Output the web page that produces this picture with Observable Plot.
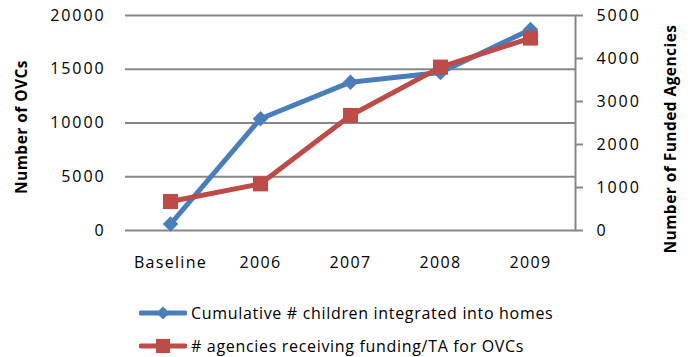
<!DOCTYPE html>
<html>
<head>
<meta charset="utf-8">
<script src="https://cdn.jsdelivr.net/npm/d3@7"></script>
<script src="https://cdn.jsdelivr.net/npm/@observablehq/plot@0.6"></script>
<style>
  html, body { margin: 0; padding: 0; background: #fff; }
  body { width: 696px; height: 357px; overflow: hidden; font-family: "Open Sans", sans-serif; }
  .ovc g[aria-label="y-axis tick label"] text { letter-spacing: 1.9px; }
  .ovc g[aria-label="x-axis tick label"] text { letter-spacing: 1.3px; }
  .ovc g[aria-label="text"] text { letter-spacing: 0.45px; }
  #legend { position: relative; font-size: 16px; letter-spacing: 0.68px; color: #000; }
  .item { position: absolute; left: 139px; display: flex; align-items: center; height: 20px; }
  .item svg { display: block; }
  .item span { margin-left: 4px; white-space: nowrap; }
</style>
</head>
<body>
<div id="chart"></div>
<div id="legend"></div>
<script>
// Year categories along the x axis
const categories = ["Baseline", "2006", "2007", "2008", "2009"];
// Cumulative number of children integrated into homes (left axis)
const children = [600, 10400, 13800, 14700, 18700];
// Number of agencies receiving funding/TA for OVCs (right axis)
const agencies = [675, 1085, 2675, 3800, 4475];
// Tick values for each axis
const leftTicks = [0, 5000, 10000, 15000, 20000];
const rightTicks = [0, 1000, 2000, 3000, 4000, 5000];
// Series names and axis titles
const seriesNames = ["Cumulative # children integrated into homes", "# agencies receiving funding/TA for OVCs"];
const titles = ["Number of OVCs", "Number of Funded Agencies"];

const blue = "#4a7ebb";
const red = "#be4b48";
const gridColor = "#878787";

// The right axis (0–5000) shares the left scale (0–20000)
const k = leftTicks[leftTicks.length - 1] / rightTicks[rightTicks.length - 1];

const rows = categories.map((c, i) => ({category: c, children: children[i], agencies: agencies[i] * k}));

const chart = Plot.plot({
  className: "ovc",
  width: 696,
  height: 285,
  marginLeft: 125,
  marginRight: 121,
  marginTop: 15,
  marginBottom: 55,
  style: {fontFamily: "Open Sans", fontSize: "16px", color: "#000", overflow: "visible"},
  x: {type: "point", domain: categories, padding: 0.5, label: null},
  y: {domain: [0, 20000], label: null},
  marks: [
    Plot.gridY(leftTicks, {stroke: gridColor, strokeOpacity: 1, strokeWidth: 2}),
    Plot.axisY(leftTicks, {anchor: "left", tickSize: 0, tickPadding: 20, tickFormat: d3.format("d"), label: null}),
    Plot.axisY(rightTicks.map(d => d * k), {anchor: "right", tickSize: 7, tickPadding: 14, stroke: gridColor, strokeWidth: 2, tickFormat: d => d3.format("d")(d / k), label: null}),
    Plot.frame({anchor: "right", stroke: gridColor, strokeWidth: 2}),
    Plot.axisX({tickSize: 0, tickPadding: 26, label: null}),
    Plot.text([titles[0]], {frameAnchor: "left", textAnchor: "middle", rotate: -90, dx: -103, dy: 4, fontWeight: "bold", fontSize: 15.5}),
    Plot.text([titles[1]], {frameAnchor: "right", textAnchor: "middle", rotate: -90, dx: 96, dy: 16, fontWeight: "bold", fontSize: 15.5}),
    Plot.line(rows, {x: "category", y: "children", stroke: blue, strokeWidth: 5}),
    Plot.dot(rows, {x: "category", y: "children", symbol: "diamond2", r: 7, fill: blue}),
    Plot.line(rows, {x: "category", y: "agencies", stroke: red, strokeWidth: 5}),
    Plot.dot(rows, {x: "category", y: "agencies", symbol: "square", r: 8.5, fill: red})
  ]
});
document.getElementById("chart").appendChild(chart);

// Legend rows below the chart
const legend = d3.select("#legend");
const swatches = [
  {name: seriesNames[0], color: blue, symbol: d3.symbolDiamond2, size: 110},
  {name: seriesNames[1], color: red, symbol: d3.symbolSquare, size: 200}
];
swatches.forEach((s, i) => {
  const item = legend.append("div").attr("class", "item").style("top", (18 + i * 33) + "px");
  const svg = item.append("svg").attr("width", 48).attr("height", 20);
  svg.append("line").attr("x1", 2).attr("x2", 46).attr("y1", 10).attr("y2", 10)
    .attr("stroke", s.color).attr("stroke-width", 5).attr("stroke-linecap", "round");
  svg.append("path").attr("d", d3.symbol(s.symbol, s.size)()).attr("transform", "translate(24,10)").attr("fill", s.color);
  item.append("span").text(s.name);
});
</script>
</body>
</html>
